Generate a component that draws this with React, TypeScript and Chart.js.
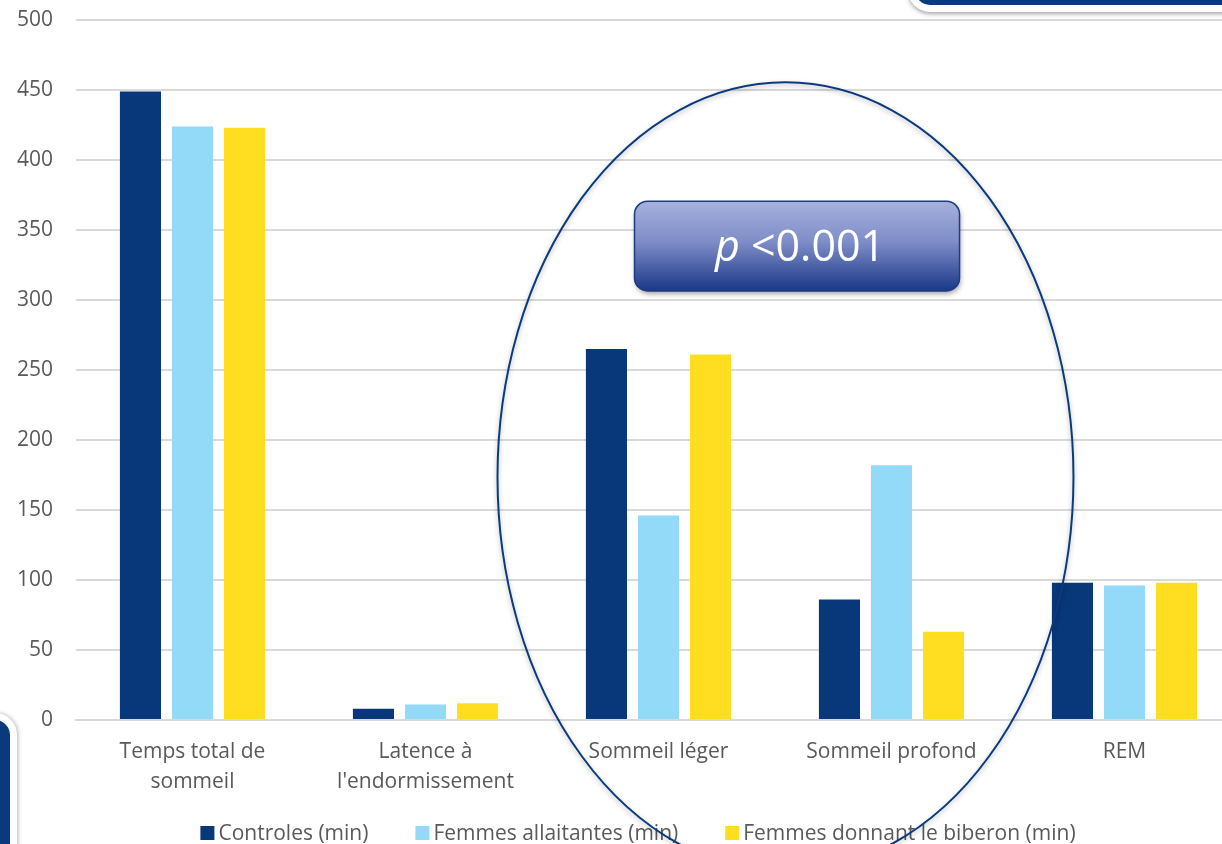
import React, { useEffect, useRef } from "react";
import { Chart, registerables } from "chart.js";

Chart.register(...registerables);

// Sleep architecture (minutes) per group
const categories: (string | string[])[] = [
  ["Temps total de", "sommeil"],
  ["Latence à", "l'endormissement"],
  "Sommeil léger",
  "Sommeil profond",
  "REM",
];
const seriesNames = [
  "Controles (min)",
  "Femmes allaitantes (min)",
  "Femmes donnant le biberon (min)",
];
const controles = [449, 8, 265, 86, 98];
const allaitantes = [424, 11, 146, 182, 96];
const biberon = [423, 12, 261, 63, 98];
const yTicks = [0, 50, 100, 150, 200, 250, 300, 350, 400, 450, 500];
const seriesColors = ["#08377A", "#92DAF8", "#FFDE21"];
const pValueItalic = "p";
const pValueRest = " <0.001";

const FONT = '"Open Sans", "DejaVu Sans", sans-serif';
const TEXT_COLOR = "#595959";
const GRID_COLOR = "#d9d9d9";

// Legend, highlight ellipse and p-value badge drawn on top of the bars
const overlayPlugin = {
  id: "overlay",
  afterDraw(chart: any) {
    const ctx: CanvasRenderingContext2D = chart.ctx;
    const x = chart.scales.x;
    const y = chart.scales.y;
    const catW = x.getPixelForValue(1) - x.getPixelForValue(0);
    const unitH = y.getPixelForValue(0) - y.getPixelForValue(1);

    // legend
    ctx.save();
    ctx.font = `21px ${FONT}`;
    ctx.textBaseline = "middle";
    const box = 14;
    const gapText = 4;
    const gapItem = 47;
    const widths = seriesNames.map((n) => ctx.measureText(n).width);
    const total =
      widths.reduce((a, b) => a + b, 0) +
      seriesNames.length * (box + gapText) +
      (seriesNames.length - 1) * gapItem;
    let lx = 638 - total / 2;
    const ly = 833;
    seriesNames.forEach((n, i) => {
      ctx.fillStyle = seriesColors[i];
      ctx.fillRect(lx, ly - box / 2, box, box);
      ctx.fillStyle = TEXT_COLOR;
      ctx.fillText(n, lx + box + gapText, ly + 1);
      lx += box + gapText + widths[i] + gapItem;
    });
    ctx.restore();

    // ellipse around the sleep-stage groups
    const cx = x.getPixelForValue(2.545);
    const cy = y.getPixelForValue(173.5);
    const rx = 1.236 * catW;
    const ry = 282 * unitH;
    ctx.save();
    ctx.shadowColor = "rgba(0,0,0,0.3)";
    ctx.shadowBlur = 5;
    ctx.shadowOffsetY = 2;
    ctx.strokeStyle = "#0B3A7E";
    ctx.lineWidth = 2;
    ctx.beginPath();
    ctx.ellipse(cx, cy, rx, ry, 0, 0, Math.PI * 2);
    ctx.stroke();
    ctx.restore();

    // p-value badge
    const bx0 = x.getPixelForValue(1.897);
    const bx1 = x.getPixelForValue(3.292);
    const by0 = y.getPixelForValue(370.5);
    const by1 = y.getPixelForValue(306.5);
    ctx.save();
    ctx.shadowColor = "rgba(0,0,0,0.35)";
    ctx.shadowBlur = 5;
    ctx.shadowOffsetX = 1;
    ctx.shadowOffsetY = 3;
    const grad = ctx.createLinearGradient(0, by0, 0, by1);
    grad.addColorStop(0, "#A7B1DD");
    grad.addColorStop(0.45, "#7F8DC8");
    grad.addColorStop(1, "#1B3887");
    ctx.fillStyle = grad;
    ctx.beginPath();
    ctx.roundRect(bx0, by0, bx1 - bx0, by1 - by0, 13);
    ctx.fill();
    ctx.shadowColor = "transparent";
    ctx.strokeStyle = "#1E3C82";
    ctx.lineWidth = 1.5;
    ctx.stroke();
    ctx.fillStyle = "#ffffff";
    ctx.textBaseline = "alphabetic";
    const fItalic = `italic 43px ${FONT}`;
    const fNormal = `43px ${FONT}`;
    ctx.font = fItalic;
    const w1 = ctx.measureText(pValueItalic).width;
    ctx.font = fNormal;
    const w2 = ctx.measureText(pValueRest).width;
    const tx = (bx0 + bx1) / 2 - (w1 + w2) / 2 + 3;
    const ty = (by0 + by1) / 2 + 15;
    ctx.font = fItalic;
    ctx.fillText(pValueItalic, tx, ty);
    ctx.font = fNormal;
    ctx.fillText(pValueRest, tx + w1, ty);
    ctx.restore();
  },
};

export default function App() {
  const canvasRef = useRef<HTMLCanvasElement | null>(null);

  useEffect(() => {
    if (!canvasRef.current) return;
    const groups = [controles, allaitantes, biberon];
    const chart = new Chart(canvasRef.current, {
      type: "bar",
      data: {
        labels: categories,
        datasets: groups.map((values, i) => ({
          label: seriesNames[i],
          data: values,
          backgroundColor: seriesColors[i],
          borderWidth: 0,
          categoryPercentage: 0.67,
          barPercentage: 0.79,
        })),
      },
      options: {
        responsive: false,
        animation: false,
        devicePixelRatio: 1,
        layout: { padding: { top: 20, left: 0, right: 0, bottom: 0 } },
        plugins: {
          legend: { display: false },
          tooltip: { enabled: false },
          title: { display: false },
        },
        scales: {
          x: {
            grid: { display: false },
            border: { display: true, color: GRID_COLOR, width: 2 },
            ticks: {
              color: TEXT_COLOR,
              font: { family: FONT, size: 21, lineHeight: 1.43 },
              padding: 9,
              maxRotation: 0,
              autoSkip: false,
            },
            afterFit: (s: any) => {
              s.height = 124;
            },
          },
          y: {
            min: 0,
            max: 500,
            afterBuildTicks: (s: any) => {
              s.ticks = yTicks.map((v) => ({ value: v }));
            },
            ticks: {
              color: TEXT_COLOR,
              font: { family: FONT, size: 21 },
              padding: 23,
            },
            grid: { color: GRID_COLOR, lineWidth: 2, drawTicks: false },
            border: { display: false },
            afterFit: (s: any) => {
              s.width = 76;
              s.paddingTop = 0;
              s.paddingBottom = 0;
            },
          },
        },
      },
      plugins: [overlayPlugin],
    });
    return () => chart.destroy();
  }, []);

  return (
    <div
      style={{
        position: "fixed",
        left: 0,
        top: 0,
        width: 1222,
        height: 844,
        overflow: "hidden",
        background: "#ffffff",
      }}
    >
      <canvas
        ref={canvasRef}
        width={1241}
        height={844}
        style={{ position: "absolute", left: 0, top: 0, width: 1241, height: 844 }}
      />
      {/* slide frame pieces at the corners */}
      <div
        style={{
          position: "absolute",
          left: 908,
          top: -50,
          width: 420,
          height: 48,
          background: "#0A397C",
          border: "7px solid #ffffff",
          borderRadius: 22,
          boxShadow: "0 2px 4px rgba(0,0,0,0.35)",
        }}
      />
      <div
        style={{
          position: "absolute",
          left: -60,
          top: 713,
          width: 63,
          height: 200,
          background: "#0A397C",
          border: "7px solid #ffffff",
          borderRadius: 22,
          boxShadow: "1px 0 4px rgba(0,0,0,0.3)",
        }}
      />
    </div>
  );
}
